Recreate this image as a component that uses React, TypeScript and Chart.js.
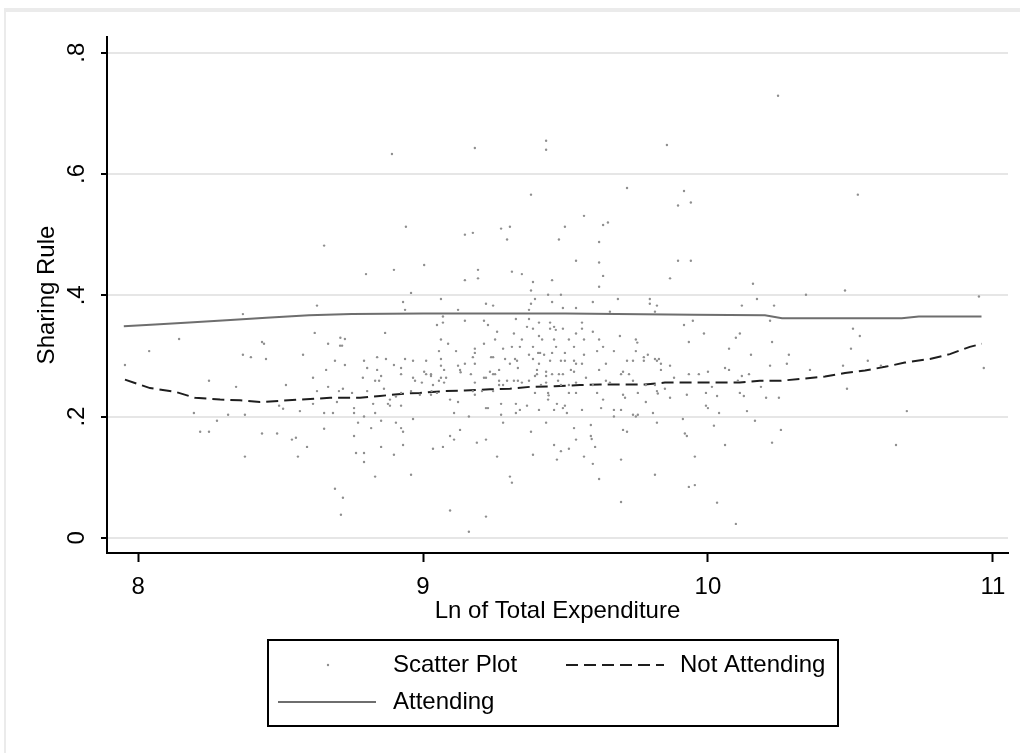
import React, { useEffect, useRef } from "react";
import { Chart, registerables } from "chart.js";

Chart.register(...registerables);

// ---------- data ----------
const xTicks = [8, 9, 10, 11];
const xTickLabels = ["8", "9", "10", "11"];
const yTicks = [0, 0.2, 0.4, 0.6, 0.8];
const yTickLabels = ["0", ".2", ".4", ".6", ".8"];
const xTitle = "Ln of Total Expenditure";
const yTitle = "Sharing Rule";
const seriesNames = ["Scatter Plot", "Not Attending", "Attending"];

const notAttendX = [7.954, 8.042, 8.13, 8.2, 8.288, 8.358, 8.428, 8.498, 8.568, 8.674, 8.779, 8.849, 8.937, 8.989, 9.077, 9.147, 9.235, 9.305, 9.375, 9.463, 9.551, 9.621, 9.709, 9.779, 9.849, 9.937, 10.042, 10.112, 10.182, 10.253, 10.323, 10.411, 10.481, 10.551, 10.621, 10.691, 10.779, 10.849, 10.919, 10.961];
const notAttendY = [0.261, 0.247, 0.241, 0.231, 0.228, 0.227, 0.224, 0.226, 0.228, 0.231, 0.231, 0.234, 0.238, 0.239, 0.242, 0.243, 0.245, 0.246, 0.249, 0.25, 0.252, 0.253, 0.253, 0.253, 0.256, 0.256, 0.256, 0.256, 0.259, 0.259, 0.262, 0.266, 0.272, 0.276, 0.282, 0.289, 0.295, 0.303, 0.315, 0.32];

const attendX = [7.95, 8.06, 8.18, 8.31, 8.45, 8.6, 8.75, 9.0, 9.5, 9.95, 10.2, 10.26, 10.68, 10.74, 10.96];
const attendY = [0.349, 0.352, 0.355, 0.359, 0.363, 0.367, 0.369, 0.37, 0.37, 0.368, 0.367, 0.362, 0.362, 0.365, 0.365];

const scatterPoints: [number, number][] = [
  [8.891,0.633],[8.653,0.482],[8.94,0.513],[8.8,0.435],[8.898,0.442],[8.628,0.383],[8.368,0.369],[8.93,0.389],[8.937,0.376],[8.62,0.338],[8.71,0.33],[8.726,0.328],[8.867,0.338],[8.144,0.328],
  [7.954,0.285],[8.039,0.308],[8.249,0.259],[8.196,0.206],[8.218,0.175],[8.249,0.175],[8.277,0.193],[8.316,0.203],[8.344,0.249],[8.368,0.302],[8.396,0.298],[8.375,0.203],[8.375,0.134],[8.435,0.323],[8.442,0.32],[8.449,0.295],[8.435,0.172],[8.488,0.172],[8.519,0.252],[8.495,0.218],[8.509,0.213],[8.54,0.162],[8.554,0.165],[8.568,0.209],[8.561,0.134],[8.593,0.15],[8.579,0.302],[8.614,0.264],[8.628,0.242],[8.614,0.221],[8.653,0.206],[8.653,0.18],[8.66,0.277],[8.667,0.32],[8.667,0.249],[8.691,0.292],[8.684,0.206],[8.698,0.224],[8.705,0.242],[8.719,0.246],[8.709,0.317],[8.716,0.317],[8.726,0.285],[8.691,0.081],[8.719,0.066],[8.712,0.038],[8.751,0.239],[8.758,0.214],[8.758,0.206],[8.758,0.168],[8.765,0.14],[8.772,0.19],[8.789,0.264],[8.793,0.292],[8.804,0.28],[8.804,0.242],[8.793,0.2],[8.793,0.14],[8.793,0.125],[8.818,0.181],[8.825,0.221],[8.832,0.206],[8.832,0.259],[8.832,0.101],[8.839,0.298],[8.839,0.277],[8.846,0.259],[8.853,0.267],[8.853,0.193],[8.853,0.15],[8.87,0.295],[8.863,0.246],[8.877,0.221],[8.884,0.218],[8.884,0.228],[8.898,0.285],[8.898,0.137],[8.905,0.19],[8.905,0.233],[8.923,0.181],[8.923,0.218],[8.923,0.27],[8.923,0.28],[8.93,0.175],[8.93,0.153],[8.937,0.295],
  [9.182,0.643],[9.432,0.655],[9.432,0.64],[9.856,0.648],[9.379,0.566],[9.716,0.577],[9.916,0.572],[9.895,0.548],[9.94,0.553],[9.565,0.531],[9.147,0.5],[9.175,0.503],[9.274,0.51],[9.305,0.513],[9.295,0.492],[9.498,0.513],[9.477,0.492],[9.632,0.516],[9.649,0.52],[9.618,0.488],[9.004,0.45],[9.193,0.442],[9.193,0.428],[9.147,0.425],[9.312,0.439],[9.347,0.435],[9.386,0.422],[9.379,0.408],[9.453,0.425],[9.537,0.457],[9.618,0.454],[9.632,0.432],[9.618,0.414],[9.895,0.457],[9.94,0.457],[9.867,0.428],[8.958,0.404],[9.063,0.394],[9.07,0.365],[9.07,0.355],[9.049,0.351],[9.123,0.376],[9.147,0.358],[9.221,0.386],[9.246,0.383],[9.214,0.358],[9.228,0.351],[9.26,0.34],[9.319,0.337],[9.326,0.361],[9.365,0.348],[9.372,0.361],[9.372,0.376],[9.379,0.386],[9.393,0.394],[9.386,0.345],[9.407,0.355],[9.439,0.401],[9.484,0.401],[9.453,0.389],[9.491,0.379],[9.537,0.379],[9.446,0.355],[9.446,0.345],[9.46,0.348],[9.466,0.343],[9.491,0.345],[9.407,0.333],[9.537,0.337],[9.558,0.355],[9.558,0.345],[9.596,0.389],[9.596,0.34],[9.656,0.373],[9.684,0.394],[9.691,0.333],[9.796,0.394],[9.796,0.386],[9.821,0.383],[9.814,0.373],[9.916,0.351],[9.947,0.358],
  [9.063,0.327],[9.088,0.32],[9.253,0.327],[9.347,0.327],[9.418,0.327],[9.46,0.327],[9.512,0.327],[9.565,0.327],[9.618,0.327],[9.747,0.327],[9.752,0.322],[9.933,0.323],[9.182,0.312],[9.182,0.305],[9.214,0.32],[9.312,0.315],[9.34,0.315],[9.281,0.312],[9.386,0.315],[9.467,0.315],[9.53,0.315],[9.632,0.315],[9.056,0.308],[9.116,0.308],[9.372,0.302],[9.404,0.305],[9.411,0.305],[9.425,0.302],[9.453,0.305],[9.498,0.305],[9.565,0.302],[9.611,0.308],[9.67,0.308],[9.747,0.308],[9.789,0.302],[9.775,0.298],
  [8.965,0.292],[9.011,0.292],[9.063,0.295],[9.063,0.284],[9.175,0.298],[9.182,0.287],[9.147,0.287],[9.123,0.284],[9.239,0.298],[9.246,0.298],[9.288,0.295],[9.305,0.287],[9.323,0.295],[9.33,0.292],[9.386,0.295],[9.407,0.287],[9.446,0.292],[9.484,0.292],[9.498,0.292],[9.53,0.292],[9.537,0.287],[9.558,0.287],[9.642,0.287],[9.716,0.292],[9.737,0.292],[9.775,0.292],[9.814,0.295],[9.821,0.292],[9.828,0.295],[9.835,0.287],[9.867,0.284],
  [9.074,0.277],[9.13,0.277],[9.132,0.273],[9.235,0.274],[9.246,0.27],[9.253,0.27],[9.267,0.277],[9.333,0.28],[9.4,0.277],[9.432,0.274],[9.432,0.267],[9.4,0.27],[9.453,0.27],[9.477,0.27],[9.491,0.27],[9.519,0.277],[9.53,0.274],[9.618,0.277],[9.695,0.27],[9.702,0.274],[9.723,0.27],[9.835,0.277],[9.933,0.27],
  [8.965,0.264],[8.972,0.259],[8.996,0.256],[9.004,0.274],[9.011,0.27],[9.028,0.27],[9.028,0.267],[9.035,0.252],[9.056,0.259],[9.063,0.264],[9.074,0.256],[9.081,0.264],[9.168,0.27],[9.182,0.256],[9.214,0.264],[9.221,0.264],[9.267,0.259],[9.267,0.252],[9.281,0.252],[9.295,0.259],[9.319,0.259],[9.333,0.259],[9.347,0.256],[9.372,0.259],[9.393,0.267],[9.414,0.252],[9.432,0.256],[9.474,0.259],[9.484,0.252],[9.512,0.252],[9.537,0.256],[9.572,0.264],[9.596,0.252],[9.642,0.259],[9.656,0.256],[9.737,0.259],[9.782,0.252],[9.814,0.252],[9.881,0.264],[9.849,0.246],[9.821,0.242],[9.824,0.238],
  [8.923,0.239],[8.958,0.242],[8.989,0.236],[9.028,0.236],[9.03,0.242],[9.049,0.239],[9.095,0.228],[9.123,0.224],[9.175,0.242],[9.182,0.236],[9.207,0.242],[9.246,0.242],[9.274,0.221],[9.326,0.221],[9.365,0.218],[9.393,0.239],[9.439,0.239],[9.441,0.235],[9.439,0.228],[9.47,0.221],[9.491,0.214],[9.498,0.218],[9.512,0.239],[9.537,0.239],[9.611,0.239],[9.632,0.228],[9.702,0.236],[9.709,0.231],[9.754,0.239],[9.782,0.224],[9.867,0.231],[9.926,0.236],
  [9.221,0.214],[9.228,0.214],[9.109,0.206],[9.161,0.2],[9.274,0.203],[9.326,0.206],[9.34,0.211],[9.407,0.211],[9.46,0.211],[9.505,0.206],[9.558,0.211],[9.625,0.214],[9.67,0.211],[9.67,0.2],[9.695,0.211],[9.737,0.203],[9.747,0.2],[9.754,0.203],[9.807,0.206],[8.965,0.196],
  [9.035,0.147],[9.07,0.15],[9.095,0.168],[9.109,0.162],[9.13,0.178],[9.189,0.157],[9.221,0.162],[9.281,0.19],[9.26,0.134],[9.379,0.175],[9.386,0.137],[9.432,0.19],[9.46,0.153],[9.47,0.129],[9.484,0.143],[9.512,0.147],[9.53,0.181],[9.537,0.162],[9.565,0.134],[9.589,0.186],[9.589,0.168],[9.592,0.163],[9.604,0.15],[9.596,0.122],[9.618,0.097],[9.702,0.178],[9.716,0.175],[9.695,0.129],[9.695,0.059],[9.821,0.19],[9.814,0.104],[9.912,0.196],[9.919,0.172],[9.926,0.168],[9.954,0.134],[9.933,0.084],[9.954,0.087],[8.958,0.104],[9.305,0.101],[9.312,0.091],[9.095,0.045],[9.221,0.035],[9.161,0.01],
  [10.526,0.566],[10.158,0.419],[10.172,0.394],[10.119,0.383],[10.232,0.383],[10.344,0.401],[10.481,0.408],[10.951,0.398],[10.218,0.358],[9.986,0.337],[10.112,0.337],[10.098,0.33],[10.509,0.345],[10.533,0.333],[10.246,0.729],
  [10.225,0.323],[10.074,0.312],[10.502,0.312],[10.151,0.302],[10.284,0.302],[10.561,0.292],[10.218,0.284],[10.277,0.287],[10.474,0.284],[10.607,0.284],[10.968,0.28],[10.06,0.28],[10.074,0.277],[10.358,0.277],[9.968,0.27],[10.0,0.274],[10.119,0.267],[10.144,0.27],[10.105,0.259],[10.014,0.249],[10.186,0.249],[10.488,0.246],[9.993,0.239],[10.032,0.234],[10.112,0.239],[10.126,0.234],[10.204,0.231],[10.249,0.231],[9.993,0.218],[10.0,0.214],[10.039,0.206],[10.137,0.209],[10.698,0.209],[10.165,0.193],[10.021,0.185],[10.256,0.178],[10.06,0.153],[10.225,0.157],[10.66,0.153],[10.032,0.058],[10.098,0.023],
];

// ---------- styling ----------
const FONT = '"Liberation Sans", Arial, Helvetica, sans-serif';
const FS = 24;

const framePlugin = {
  id: "frame",
  beforeDraw(chart: any) {
    const ctx = chart.ctx;
    ctx.save();
    ctx.fillStyle = "#ffffff";
    ctx.fillRect(0, 0, chart.width, chart.height);
    ctx.fillStyle = "#ebebeb";
    ctx.fillRect(4, 8, chart.width - 4, 4);
    ctx.fillRect(4, 8, 2, chart.height - 8);
    ctx.restore();
  },
};

const legendPlugin = {
  id: "boxLegend",
  afterDraw(chart: any) {
    const ctx = chart.ctx;
    const ds = chart.data.datasets;
    ctx.save();
    ctx.strokeStyle = "#000";
    ctx.lineWidth = 2;
    ctx.setLineDash([]);
    ctx.strokeRect(268, 640, 570, 86);
    const slots = [
      { sx: 278, tx: 393, y: 665 },
      { sx: 566, tx: 680, y: 665 },
      { sx: 278, tx: 393, y: 702 },
    ];
    ctx.font = `${FS}px ${FONT}`;
    ctx.textBaseline = "middle";
    ctx.textAlign = "left";
    ds.forEach((d: any, i: number) => {
      const s = slots[i];
      if (!s) return;
      if (d.showLine) {
        ctx.strokeStyle = d.borderColor;
        ctx.lineWidth = d.borderWidth;
        ctx.setLineDash(d.borderDash || []);
        ctx.beginPath();
        ctx.moveTo(s.sx, s.y);
        ctx.lineTo(s.sx + 98, s.y);
        ctx.stroke();
        ctx.setLineDash([]);
      } else {
        ctx.fillStyle = d.backgroundColor;
        ctx.beginPath();
        ctx.arc(s.sx + 50, s.y, d.pointRadius, 0, Math.PI * 2);
        ctx.fill();
      }
      ctx.fillStyle = "#000";
      ctx.fillText(d.label, s.tx, s.y);
    });
    ctx.restore();
  },
};

export default function App() {
  const ref = useRef<HTMLCanvasElement | null>(null);

  useEffect(() => {
    if (!ref.current) return;
    const chart = new Chart(ref.current, {
      type: "scatter",
      data: {
        datasets: [
          {
            label: seriesNames[0],
            data: scatterPoints.map(([x, y]) => ({ x, y })),
            showLine: false,
            pointRadius: 1.2,
            pointHoverRadius: 1.2,
            backgroundColor: "#8f8f8f",
            borderWidth: 0,
          },
          {
            label: seriesNames[1],
            data: notAttendX.map((x, i) => ({ x, y: notAttendY[i] })),
            showLine: true,
            borderColor: "#1e1e1e",
            borderWidth: 2,
            borderDash: [12, 6],
            pointRadius: 0,
            tension: 0,
          },
          {
            label: seriesNames[2],
            data: attendX.map((x, i) => ({ x, y: attendY[i] })),
            showLine: true,
            borderColor: "#6e6e6e",
            borderWidth: 2,
            pointRadius: 0,
            tension: 0,
          },
        ],
      } as any,
      plugins: [framePlugin, legendPlugin],
      options: {
        animation: false,
        responsive: false,
        devicePixelRatio: 1,
        events: [],
        layout: { padding: { left: 0, top: 37, right: 12, bottom: 127 } },
        plugins: {
          legend: { display: false },
          tooltip: { enabled: false },
          title: { display: false },
        },
        scales: {
          x: {
            type: "linear",
            min: 7.891,
            max: 11.053,
            afterBuildTicks: (scale: any) => {
              scale.ticks = xTicks.map((v) => ({ value: v }));
            },
            afterFit: (scale: any) => {
              scale.height = 73;
              scale.paddingLeft = 0;
              scale.paddingRight = 0;
            },
            ticks: {
              autoSkip: false,
              maxRotation: 0,
              minRotation: 0,
              padding: 11,
              color: "#000",
              font: { family: FONT, size: FS },
              callback: (_v: any, i: number) => xTickLabels[i],
            },
            grid: {
              display: true,
              drawOnChartArea: false,
              drawTicks: true,
              tickLength: 9,
              tickColor: "#000",
              tickWidth: 2,
            },
            border: { display: true, color: "#000", width: 2 },
            title: {
              display: true,
              text: xTitle,
              color: "#000",
              font: { family: FONT, size: FS },
              padding: { top: 0, bottom: 0 },
            },
          },
          y: {
            type: "linear",
            min: -0.025,
            max: 0.826,
            afterBuildTicks: (scale: any) => {
              scale.ticks = yTicks.map((v) => ({ value: v }));
            },
            afterFit: (scale: any) => {
              scale.width = 107;
              scale.paddingTop = 0;
              scale.paddingBottom = 0;
            },
            ticks: {
              autoSkip: false,
              minRotation: 90,
              maxRotation: 90,
              crossAlign: "center",
              padding: 14,
              color: "#000",
              font: { family: FONT, size: FS },
              callback: (_v: any, i: number) => yTickLabels[i],
            },
            grid: {
              display: true,
              drawOnChartArea: true,
              drawTicks: true,
              color: "#e6e6e6",
              lineWidth: 2,
              tickLength: 6,
              tickColor: "#000",
              tickWidth: 2,
            },
            border: { display: true, color: "#000", width: 2 },
            title: {
              display: true,
              text: yTitle,
              color: "#000",
              font: { family: FONT, size: FS },
              padding: { top: 33, bottom: 0 },
            },
          },
        },
      } as any,
    });
    return () => chart.destroy();
  }, []);

  return (
    <div style={{ position: "fixed", left: 0, top: 0, width: 1020, height: 753, background: "#fff" }}>
      <canvas ref={ref} width={1020} height={753} style={{ width: 1020, height: 753, display: "block" }} />
    </div>
  );
}
